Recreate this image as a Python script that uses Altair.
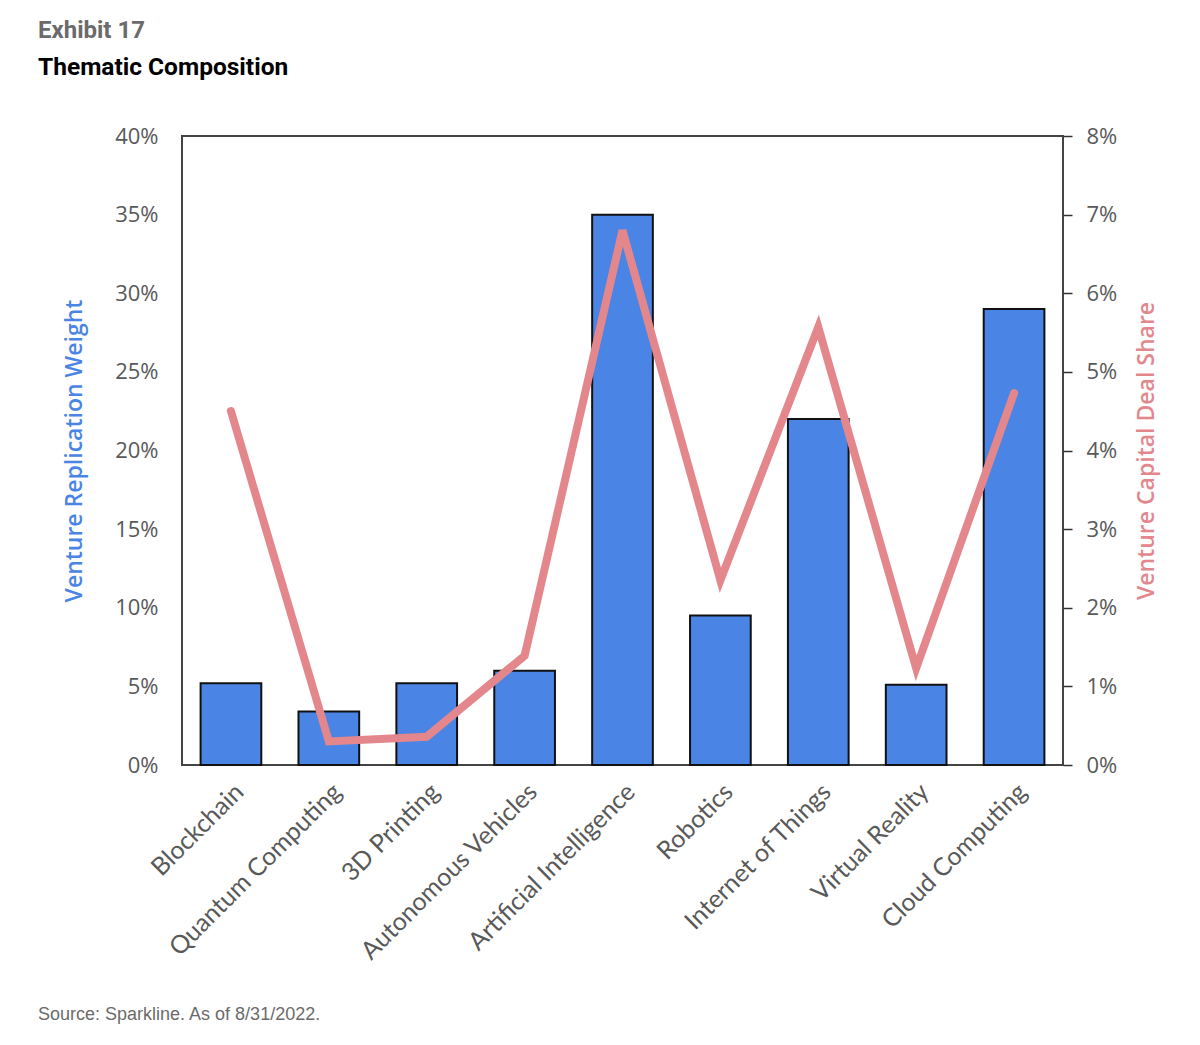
import altair as alt
import pandas as pd

categories = ["Blockchain", "Quantum Computing", "3D Printing", "Autonomous Vehicles",
              "Artificial Intelligence", "Robotics", "Internet of Things", "Virtual Reality",
              "Cloud Computing"]
replication_weight = [0.052, 0.034, 0.052, 0.060, 0.350, 0.095, 0.220, 0.051, 0.290]
deal_share = [0.045, 0.003, 0.0036, 0.0139, 0.068, 0.0235, 0.0557, 0.0123, 0.0473]

df = pd.DataFrame({"cat": categories, "w": replication_weight, "d": deal_share})

W, H = 881, 629
BLUE = "#4A84E4"
PINK = "#E3878D"
GREY = "#595959"

x = alt.X("cat:N", sort=categories, title=None,
          scale=alt.Scale(paddingInner=0.38, paddingOuter=0.19),
          axis=alt.Axis(labelAngle=-45, labelFontSize=25, labelFont="Lato",
                        labelColor=GREY, ticks=False, domain=False, labelPadding=14,
                        labelLimit=400))

bars = alt.Chart(df).mark_bar(color=BLUE, stroke="#111111", strokeWidth=2).encode(
    x=x,
    y=alt.Y("w:Q", scale=alt.Scale(domain=[0, 0.40]),
            axis=alt.Axis(format=".0%", values=[0, .05, .1, .15, .2, .25, .3, .35, .4],
                          orient="left", ticks=False, domain=False, grid=False,
                          labelFontSize=22, labelFont="Open Sans", labelColor=GREY,
                          labelPadding=24, title="Venture Replication Weight",
                          titleColor=BLUE, titleFont="Open Sans", titleFontSize=23,
                          titleFontWeight=600, titlePadding=28))
)

line = alt.Chart(df).mark_line(color=PINK, strokeWidth=8, strokeCap="round",
                               strokeJoin="miter").encode(
    x=alt.X("cat:N", sort=categories),
    y=alt.Y("d:Q", scale=alt.Scale(domain=[0, 0.08]),
            axis=alt.Axis(format=".0%", values=[0, .01, .02, .03, .04, .05, .06, .07, .08],
                          orient="right", ticks=True, tickSize=9, tickColor="#333333",
                          tickWidth=1.5, domain=False, grid=False,
                          labelFontSize=22, labelFont="Open Sans", labelColor=GREY,
                          labelPadding=14, title="Venture Capital Deal Share",
                          titleColor=PINK, titleFont="Open Sans", titleFontSize=23,
                          titleFontWeight=600, titlePadding=42, titleAngle=270))
)

t1 = alt.Chart(pd.DataFrame({"t": ["Exhibit 17"]})).mark_text(
    align="left", baseline="middle", font="Roboto", fontSize=24, fontWeight="bold",
    color="#6B6B6B").encode(text="t:N", x=alt.value(-144), y=alt.value(-105))
t2 = alt.Chart(pd.DataFrame({"t": ["Thematic Composition"]})).mark_text(
    align="left", baseline="middle", font="Roboto", fontSize=24.5, fontWeight="bold",
    color="#000000").encode(text="t:N", x=alt.value(-144), y=alt.value(-68))
t3 = alt.Chart(pd.DataFrame({"t": ["Source: Sparkline. As of 8/31/2022."]})).mark_text(
    align="left", baseline="middle", font="Liberation Sans", fontSize=18,
    color="#6B6B6B").encode(text="t:N", x=alt.value(-144), y=alt.value(879))

chart = alt.layer(bars, line, t1, t2, t3).resolve_scale(y="independent").properties(
    width=W, height=H,
    background="white",
    autosize=alt.AutoSizeParams(type="none"),
    padding={"left": 174, "top": 128, "right": 120, "bottom": 260},
).configure_view(stroke="#444444", strokeWidth=2)

chart.save("out.html", embed_options={"renderer": "svg", "actions": False})
